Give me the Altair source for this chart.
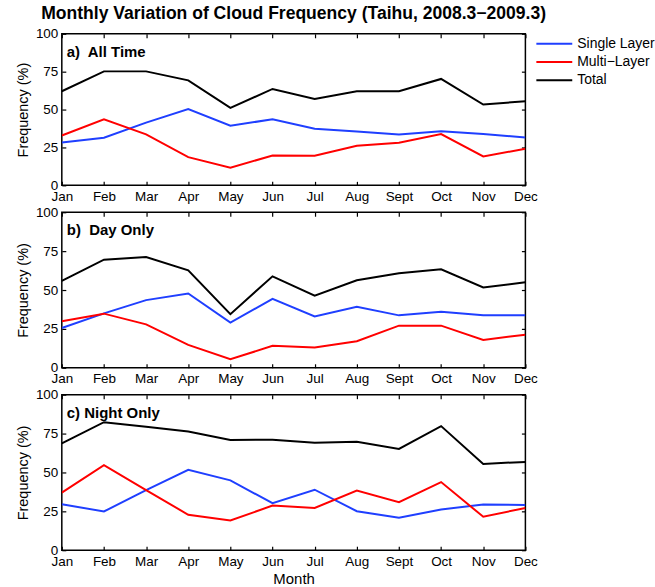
import altair as alt
import pandas as pd

FONT = "Liberation Sans"

months = ["Jan", "Feb", "Mar", "Apr", "May", "Jun", "Jul", "Aug", "Sept", "Oct", "Nov", "Dec"]
series_names = ["Single Layer", "Multi\u2212Layer", "Total"]
series_colors = ["#1f3fff", "#ff0000", "#000000"]
y_ticks = [0, 25, 50, 75, 100]

# a) all time
all_single = [28.3, 31.4, 41.4, 50.4, 39.3, 43.6, 37.3, 35.5, 33.6, 35.7, 33.8, 31.6]
all_multi = [32.9, 43.6, 33.6, 18.6, 11.6, 19.7, 19.5, 26.1, 28.1, 33.8, 19.1, 24.1]
all_total = [62.1, 75.2, 75.2, 69.3, 51.1, 63.6, 57.0, 62.1, 62.1, 70.2, 53.3, 55.5]
# b) day only
day_single = [25.6, 35.0, 43.5, 47.8, 29.0, 44.3, 33.0, 39.2, 33.7, 36.0, 33.7, 33.7]
day_multi = [29.9, 34.8, 27.9, 14.7, 5.5, 14.1, 13.0, 17.1, 27.1, 27.1, 17.9, 21.3]
day_total = [55.9, 69.5, 71.2, 62.7, 34.5, 58.8, 46.3, 56.3, 60.8, 63.3, 51.6, 55.0]
# c) night only
night_single = [29.6, 24.9, 38.7, 51.7, 44.9, 30.2, 38.9, 25.1, 20.9, 26.2, 29.4, 29.1]
night_multi = [37.0, 54.7, 38.7, 22.8, 19.1, 28.7, 27.2, 38.3, 30.9, 43.8, 21.5, 27.2]
night_total = [68.7, 82.3, 79.4, 76.4, 70.9, 71.1, 69.1, 69.8, 65.1, 79.8, 55.5, 56.8]


def frame(single, multi, total):
    rows = []
    for name, vals in zip(series_names, [single, multi, total]):
        for m, v in zip(months, vals):
            rows.append({"month": m, "series": name, "value": v})
    return pd.DataFrame(rows)


def panel(df, label, height, show_xtitle, show_legend):
    x_scale = alt.Scale(type="point", padding=0)
    y_scale = alt.Scale(domain=[0, 100], nice=False, zero=True)
    base = alt.Chart(df)

    legend = alt.Legend(
        orient="none", legendX=475, legendY=3, title=None,
        symbolType="stroke", symbolSize=1296, symbolStrokeWidth=2,
        labelFont=FONT, labelFontSize=14, labelColor="black",
        labelOffset=4, clipHeight=14, rowPadding=4.3, padding=0,
    ) if show_legend else None

    x_lab = dict(
        labelAngle=0, labelFont=FONT, labelFontSize=13.5, labelColor="black",
        labelPadding=4, ticks=False, domain=False, grid=False,
    )
    if show_xtitle:
        x_lab.update(title="Month", titleFont=FONT, titleFontSize=15,
                     titleFontWeight="normal", titleColor="black", titlePadding=4)
    else:
        x_lab.update(title=None)

    lines = base.mark_line(strokeWidth=2, clip=True).encode(
        x=alt.X("month:O", sort=months, scale=x_scale, axis=alt.Axis(**x_lab)),
        y=alt.Y("value:Q", scale=y_scale, axis=alt.Axis(
            values=y_ticks, title="Frequency (%)", titleFont=FONT, titleFontSize=14.5,
            titleFontWeight="normal", titleColor="black", titlePadding=5,
            labelFont=FONT, labelFontSize=13.5, labelColor="black", labelPadding=4,
            ticks=False, domain=False, grid=False)),
        color=alt.Color("series:N", sort=series_names,
                        scale=alt.Scale(domain=series_names, range=series_colors),
                        legend=legend),
    )

    tick_style = dict(labels=False, domain=False, grid=False, ticks=True,
                      tickSize=4, tickColor="black", tickWidth=1.2, offset=-4, title=None)

    inner_ticks = base.mark_line(opacity=0).encode(
        x=alt.X("month:O", sort=months, scale=x_scale, axis=alt.Axis(orient="bottom", **tick_style)),
        y=alt.Y("value:Q", scale=y_scale, axis=alt.Axis(orient="left", values=y_ticks, **tick_style)),
    )
    outer_ticks = base.mark_line(opacity=0).encode(
        x=alt.X("month:O", sort=months, scale=x_scale, axis=alt.Axis(orient="top", **tick_style)),
        y=alt.Y("value:Q", scale=y_scale, axis=alt.Axis(orient="right", values=y_ticks, **tick_style)),
    )

    tag = alt.Chart(pd.DataFrame({"t": [label]})).mark_text(
        align="left", baseline="alphabetic", font=FONT, fontSize=15,
        fontWeight="bold", color="black",
    ).encode(x=alt.value(5), y=alt.value(23), text="t:N")

    return alt.layer(lines, inner_ticks, outer_ticks, tag).resolve_axis(
        x="independent", y="independent"
    ).properties(width=465, height=height)


pa = panel(frame(all_single, all_multi, all_total), "a)\u00a0 All Time", 152, False, True)
pb = panel(frame(day_single, day_multi, day_total), "b)\u00a0 Day Only", 156, False, False)
pc = panel(frame(night_single, night_multi, night_total), "c) Night Only", 156, True, False)

chart = alt.vconcat(pa, pb, pc, spacing=27, bounds="flush").properties(
    title=alt.TitleParams(
        "Monthly Variation of Cloud Frequency (Taihu, 2008.3\u22122009.3)",
        font=FONT, fontSize=17.6, fontWeight="bold", color="black",
        anchor="middle", frame="group", offset=3,
    ),
    padding={"left": 14, "top": 4, "right": 0, "bottom": 0},
    background="white",
).configure_view(stroke="black", strokeWidth=1.5)

chart.save("out.html", embed_options={"renderer": "svg", "actions": False})
